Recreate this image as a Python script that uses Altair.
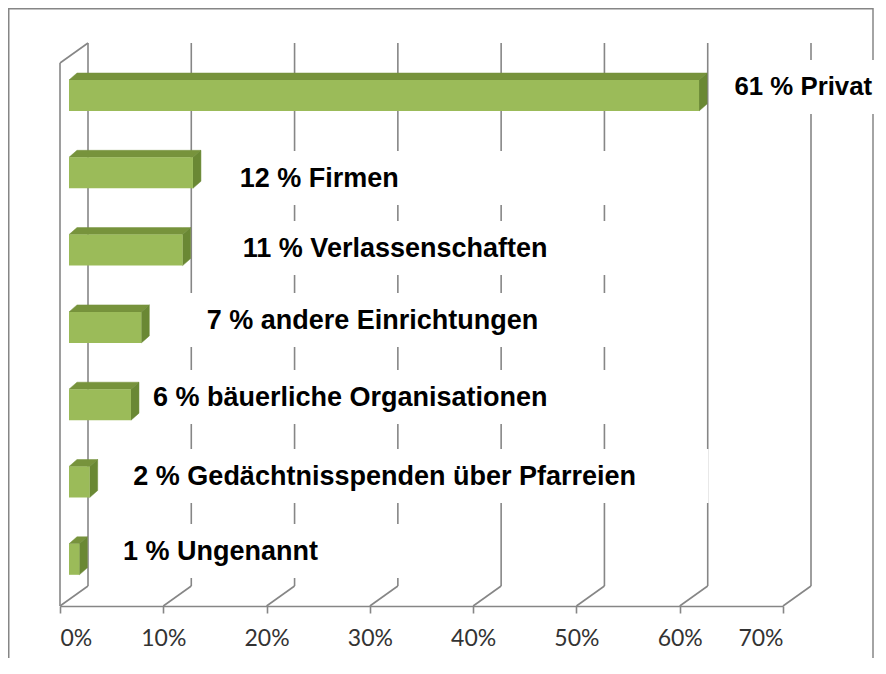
import altair as alt
import pandas as pd

# ---------------- data ----------------
categories = ["Privat", "Firmen", "Verlassenschaften", "andere Einrichtungen",
              "bäuerliche Organisationen", "Gedächtnisspenden über Pfarreien", "Ungenannt"]
values = [61, 12, 11, 7, 6, 2, 1]
label_texts = ["61 % Privat", "12 % Firmen", "11 % Verlassenschaften",
               "7 % andere Einrichtungen", "6 % bäuerliche Organisationen",
               "2 % Gedächtnisspenden über Pfarreien", "1 % Ungenannt"]
tick_values = [0, 10, 20, 30, 40, 50, 60, 70]

# ---------------- layout (styling) ----------------
X_RANGE = [52, 775]            # pixel range of 0%..70% on the front plane
Y_RANGE = [48.85, 589.95]      # pixel range of rows -0.5 .. 6.5
PX_PER_PCT = (X_RANGE[1] - X_RANGE[0]) / 70.0
PX_PER_ROW = (Y_RANGE[1] - Y_RANGE[0]) / 7.0
BAR_X0_PX = 9                  # bars sit a little behind the front plane
DEPTH_DX, DEPTH_DY = 8, 7      # 3D depth of the bars
HALF_H = 15.5                  # half height of bar front face
BACK_DX = 28                   # back wall offset
Y_GRID_TOP, Y_BACK_BOTTOM, Y_FRONT = 35, 578, 598
Y_WALL_TOP = 55

label_x_pct = [65.3, 17.4, 17.7, 14.2, 9.0, 7.1, 6.1]
label_dy_px = [-9.5, 4.2, -3.1, -8.4, -8.7, -7.0, -9.3]
label_size = [25.8, 27, 27, 27, 27, 27, 27]
box_left_pct = [63.7, 14.0, 14.0, 12.5, 6.8, 5.0, 5.0]
box_right_pct = [80.0, 57.1, 57.1, 57.1, 57.1, 62.8, 34.9]

FRONT_C, TOP_C, SIDE_C = "#9BBB59", "#77933C", "#6A8834"
LINE_C = "#868686"

px2pct = lambda p: p / PX_PER_PCT
px2row = lambda p: p / PX_PER_ROW

# ---------------- derived tables ----------------
front_rows, face_rows, label_rows = [], [], []
for i, (cat, v) in enumerate(zip(categories, values)):
    x0 = px2pct(BAR_X0_PX)
    x1 = x0 + v
    d = px2pct(DEPTH_DX)
    dd = px2row(DEPTH_DY)
    h = px2row(HALF_H)
    front_rows.append(dict(cat=cat, x0=x0, x1=x1, y0=i - h, y1=i + h))
    fid = f"top{i}"
    for (xx, yy, yy2) in [(x0, i - h, i - h), (x0 + d, i - h - dd, i - h),
                          (x1, i - h - dd, i - h), (x1 + d, i - h - dd, i - h - dd)]:
        face_rows.append(dict(face=fid, kind="top", x=xx, y=yy, y2=yy2))
    fid = f"side{i}"
    for (xx, yy, yy2) in [(x1, i - h, i + h), (x1 + d, i - h - dd, i + h - dd)]:
        face_rows.append(dict(face=fid, kind="side", x=xx, y=yy, y2=yy2))
    cap_c = i + px2row(label_dy_px[i])
    label_rows.append(dict(text=label_texts[i], x=label_x_pct[i], fs=label_size[i],
                           yb=cap_c + px2row(0.358 * label_size[i]),
                           bx0=box_left_pct[i], bx1=box_right_pct[i],
                           by0=cap_c - px2row(26), by1=cap_c + px2row(28)))

front_df = pd.DataFrame(front_rows)
face_df = pd.DataFrame(face_rows)
label_df = pd.DataFrame(label_rows)
tick_df = pd.DataFrame({"t": tick_values})
one = pd.DataFrame({"a": [0]})

xscale = alt.Scale(domain=[0, 70], range=X_RANGE)
yscale = alt.Scale(domain=[-0.5, 6.5], range=Y_RANGE)

frame = alt.Chart(one).mark_rect(fillOpacity=0, stroke="#868686", strokeWidth=1.5).encode(
    x=alt.value(0.75), x2=alt.value(865), y=alt.value(0.75), y2=alt.value(720))

grid = alt.Chart(tick_df).mark_rule(color=LINE_C, strokeWidth=1.6, xOffset=BACK_DX).encode(
    x=alt.X("t:Q", scale=xscale,
            axis=alt.Axis(values=tick_values, labelExpr="datum.value + '%'", grid=False,
                          domainColor="#868686", domainWidth=1.6, tickColor="#868686",
                          tickWidth=1.6, tickSize=7, labelFont="Lato", labelFontSize=23,
                          labelColor="#333333", labelPadding=14, title="", zindex=2)),
    y=alt.value(Y_GRID_TOP), y2=alt.value(Y_BACK_BOTTOM))

diag = alt.Chart(tick_df).mark_rule(color=LINE_C, strokeWidth=1.6, x2Offset=BACK_DX).encode(
    x=alt.X("t:Q", scale=xscale), x2="t:Q",
    y=alt.value(Y_FRONT), y2=alt.value(Y_BACK_BOTTOM))

wall = alt.Chart(one).mark_rule(color=LINE_C, strokeWidth=1.6).encode(
    x=alt.datum(0, scale=xscale), y=alt.value(Y_WALL_TOP), y2=alt.value(Y_FRONT))

wall_top = alt.Chart(one).mark_rule(color=LINE_C, strokeWidth=1.6, x2Offset=BACK_DX).encode(
    x=alt.datum(0, scale=xscale), x2=alt.datum(0),
    y=alt.value(Y_WALL_TOP), y2=alt.value(Y_GRID_TOP))

boxes = alt.Chart(label_df).mark_rect(color="white").encode(
    x=alt.X("bx0:Q", scale=xscale), x2="bx1:Q",
    y=alt.Y("by0:Q", scale=yscale, axis=None), y2="by1:Q")

front = alt.Chart(front_df).mark_rect(color=FRONT_C).encode(
    x=alt.X("x0:Q", scale=xscale), x2="x1:Q",
    y=alt.Y("y0:Q", scale=yscale, axis=None), y2="y1:Q")

top = alt.Chart(face_df[face_df.kind == "top"]).mark_area(
    color=TOP_C, orient="vertical", stroke=TOP_C, strokeWidth=0.5).encode(
    x=alt.X("x:Q", scale=xscale), y=alt.Y("y:Q", scale=yscale, axis=None), y2="y2:Q",
    detail="face:N")

side = alt.Chart(face_df[face_df.kind == "side"]).mark_area(
    color=SIDE_C, orient="vertical", stroke=SIDE_C, strokeWidth=0.5).encode(
    x=alt.X("x:Q", scale=xscale), y=alt.Y("y:Q", scale=yscale, axis=None), y2="y2:Q",
    detail="face:N")

labels = alt.Chart(label_df).mark_text(
    align="left", baseline="alphabetic", font="Liberation Sans", fontWeight="bold",
    color="#000000").encode(
    x=alt.X("x:Q", scale=xscale), y=alt.Y("yb:Q", scale=yscale, axis=None),
    size=alt.Size("fs:Q", scale=None), text="text:N")

chart = alt.layer(frame, grid, diag, wall, wall_top, boxes, top, side, front, labels).properties(
    width=870, height=598,
    autosize=alt.AutoSizeParams(type="none"),
    padding={"left": 0, "top": 0, "right": 0, "bottom": 52},
).configure_view(strokeOpacity=0)

chart.save("out.html", embed_options={"renderer": "svg", "actions": False})
